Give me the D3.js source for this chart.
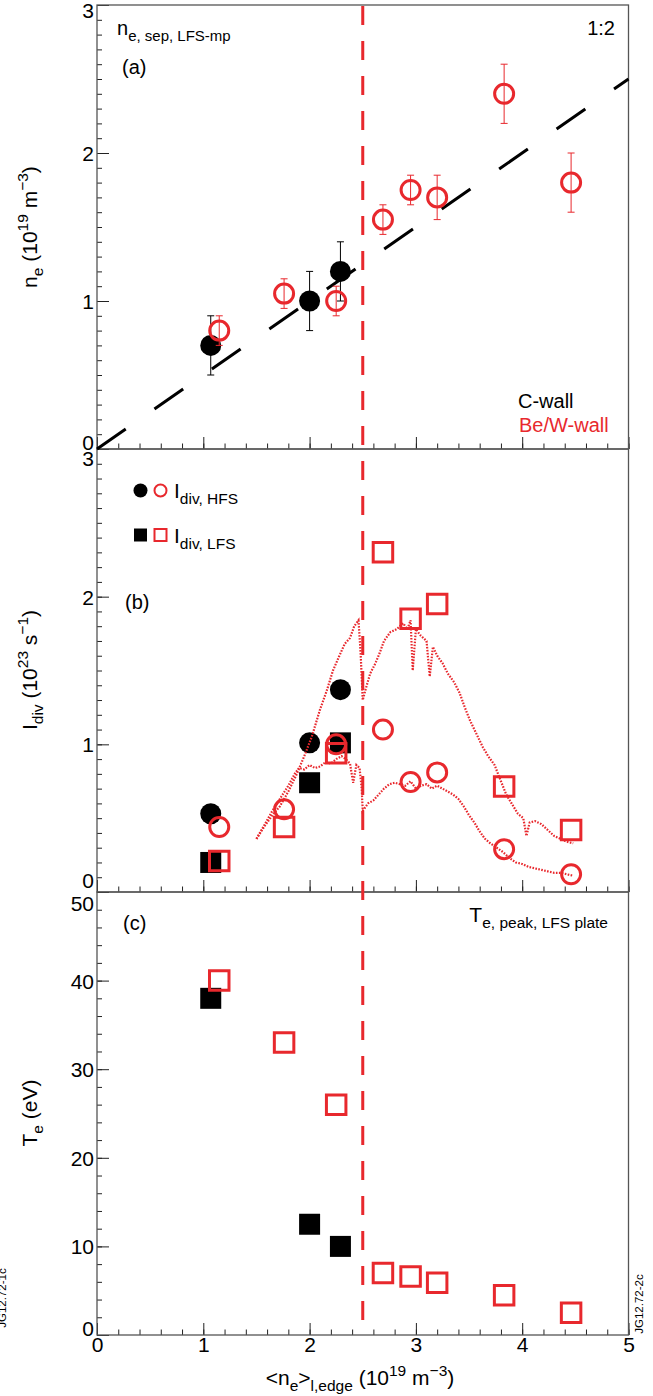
<!DOCTYPE html>
<html>
<head>
<meta charset="utf-8">
<script src="https://cdn.jsdelivr.net/npm/d3@7"></script>
<style>
  body { margin: 0; background: #fff; }
  text { font-family: "Liberation Sans", Arial, Helvetica, sans-serif; }
</style>
</head>
<body>
<svg id="chart" width="653" height="1396"></svg>
<script>
// ---- data ----
// x positions (line-averaged edge density, 10^19 m^-3)
const cWallX = [1.07, 2.00, 2.29];
const bwWallX = [1.15, 1.76, 2.25, 2.69, 2.95, 3.20, 3.83, 4.46];

// (a) separatrix density
const neSepC = [0.70, 1.00, 1.20];
const neSepCErr = [0.20, 0.20, 0.20];
const neSepBW = [0.80, 1.05, 1.00, 1.55, 1.75, 1.70, 2.40, 1.80];
const neSepBWErr = [0.10, 0.10, 0.10, 0.10, 0.10, 0.15, 0.20, 0.20];
const fitX = [0, 5];
const fitY = [0, 2.5];

// (b) divertor ion currents
const idivHfsC = [0.53, 1.01, 1.37];
const idivLfsC = [0.20, 0.74, 1.01];
const idivHfsBW = [0.44, 0.56, 1.00, 1.10, 0.745, 0.81, 0.29, 0.12];
const idivLfsBW = [0.21, 0.44, 0.94, 2.30, 1.85, 1.95, 0.715, 0.42];

// (b) continuous density-ramp traces (Be/W)
const lfsTraceX = [1.50,1.58,1.65,1.72,1.80,1.88,1.95,2.02,2.10,2.16,2.22,2.28,2.33,2.38,2.42,2.46,2.48,2.50,
  2.53,2.57,2.62,2.66,2.70,2.76,2.82,2.88,2.92,2.95,2.97,3.00,3.04,3.10,3.13,3.16,3.20,3.25,3.30,3.36,3.41,
  3.46,3.51,3.57,3.63,3.68,3.74,3.80,3.85,3.90,3.96,4.01,4.04,4.07,4.12,4.18,4.24,4.30,4.36,4.42,4.48];
const lfsTraceY = [0.36,0.45,0.52,0.58,0.68,0.80,0.92,1.05,1.24,1.36,1.50,1.60,1.68,1.72,1.80,1.84,1.62,1.30,
  1.38,1.48,1.55,1.62,1.70,1.76,1.78,1.82,1.78,1.84,1.50,1.78,1.74,1.70,1.46,1.66,1.60,1.55,1.48,1.42,1.35,
  1.25,1.16,1.07,0.98,0.92,0.86,0.75,0.66,0.60,0.53,0.50,0.38,0.47,0.48,0.46,0.42,0.38,0.36,0.34,0.33];
const hfsTraceX = [1.50,1.58,1.65,1.72,1.80,1.86,1.90,1.95,2.00,2.05,2.10,2.15,2.20,2.25,2.30,2.34,2.38,2.41,
  2.44,2.47,2.49,2.50,2.55,2.60,2.65,2.70,2.75,2.80,2.85,2.90,2.95,3.00,3.05,3.10,3.15,3.20,3.25,3.30,3.35,
  3.40,3.45,3.50,3.55,3.60,3.65,3.70,3.76,3.82,3.88,3.94,4.00,4.06,4.12,4.18,4.24,4.30,4.36,4.42,4.48];
const hfsTraceY = [0.36,0.46,0.55,0.63,0.72,0.80,0.84,0.83,0.86,0.84,0.85,0.88,0.87,0.90,0.92,0.90,0.87,0.74,
  0.86,0.84,0.70,0.55,0.60,0.62,0.66,0.70,0.73,0.74,0.73,0.72,0.75,0.70,0.72,0.73,0.70,0.72,0.70,0.68,0.66,
  0.63,0.58,0.52,0.47,0.41,0.36,0.33,0.30,0.27,0.23,0.20,0.19,0.17,0.16,0.15,0.14,0.13,0.13,0.12,0.11];

// (c) peak target temperature
const tePeakC = [38, 12.5, 10];
const tePeakBW = [40, 33, 26, 7, 6.6, 5.9, 4.5, 2.5];

// axes
const xTicks = [0, 1, 2, 3, 4, 5];
const neTicks = [0, 1, 2, 3];
const idivTicks = [0, 1, 2, 3];
const teTicks = [0, 10, 20, 30, 40, 50];
const limitX = 2.5;

// ---- layout ----
const RED = '#e8282d';
const svg = d3.select('#chart');
svg.append('rect').attr('width', 653).attr('height', 1396).attr('fill', '#fff');

const x = d3.scaleLinear().domain([0, 5]).range([97, 628.5]);

const panels = [
  { top: 5, bottom: 449, domain: [0, 3], ticks: neTicks, minor: 0.1, shiftTop: 5, shiftBot: -7 },
  { top: 449, bottom: 892, domain: [0, 3], ticks: idivTicks, minor: 0.1, shiftTop: 9, shiftBot: -12 },
  { top: 892, bottom: 1335, domain: [0, 50], ticks: teTicks, minor: 2, shiftTop: 11, shiftBot: -7 }
];
panels.forEach(function(p) {
  p.y = d3.scaleLinear().domain(p.domain).range([p.bottom, p.top]);
});

// rich text helper: parts = [[text, 'sub'|'sup'|'']]
function richText(g, px, py, parts, size, opts) {
  opts = opts || {};
  let t = g.append('text')
    .attr('x', px).attr('y', py)
    .attr('font-size', size)
    .attr('fill', opts.fill || '#000')
    .attr('text-anchor', opts.anchor || 'start');
  if (opts.rotate) t.attr('transform', 'rotate(' + opts.rotate + ',' + px + ',' + py + ')');
  let shift = 0;
  let subSize = opts.subSize || size * 0.72;
  parts.forEach(function(pt) {
    let target = 0;
    let fs = size;
    if (pt[1] === 'sub') { target = size * 0.3; fs = subSize; }
    if (pt[1] === 'sup') { target = -size * 0.45; fs = subSize; }
    t.append('tspan')
      .attr('dy', target - shift)
      .attr('font-size', fs)
      .text(pt[0]);
    shift = target;
  });
  return t;
}

// ---- frames and axes ----
panels.forEach(function(p, i) {
  let g = svg.append('g');

  // y axis major / minor
  let minorVals = d3.range(p.domain[0], p.domain[1] + p.minor / 2, p.minor);
  g.append('g').attr('transform', 'translate(' + x(0) + ',0)')
    .call(d3.axisLeft(p.y).tickValues(minorVals).tickSize(-5).tickFormat(''))
    .call(function(a) { a.select('.domain').remove(); });
  let ya = g.append('g').attr('transform', 'translate(' + x(0) + ',0)')
    .call(d3.axisLeft(p.y).tickValues(p.ticks).tickSize(-12).tickPadding(3).tickFormat(d3.format('d')));
  ya.select('.domain').remove();
  ya.selectAll('text').attr('font-size', 21).attr('font-family', '"Liberation Sans", Arial, sans-serif')
    .attr('fill', '#000')
    .attr('dy', function(d) {
      let s = 0;
      if (d === p.domain[1]) s = p.shiftTop;
      if (d === p.domain[0]) s = p.shiftBot;
      return (7.5 + s) + 'px';
    });

  // x axis on bottom of every panel
  let xMinor = d3.range(0, 5.1, 0.2);
  g.append('g').attr('transform', 'translate(0,' + p.bottom + ')')
    .call(d3.axisBottom(x).tickValues(xMinor).tickSize(-5.5).tickFormat(''))
    .call(function(a) { a.select('.domain').remove(); });
  let xa = g.append('g').attr('transform', 'translate(0,' + p.bottom + ')')
    .call(d3.axisBottom(x).tickValues(xTicks).tickSize(-12).tickPadding(4)
      .tickFormat(i === 2 ? d3.format('d') : ''));
  xa.select('.domain').remove();
  xa.selectAll('text').attr('font-size', 21).attr('fill', '#000')
    .attr('font-family', '"Liberation Sans", Arial, sans-serif').attr('dy', '0.6em');

  g.selectAll('.tick line').attr('stroke', '#222').attr('stroke-width', 1);

  g.append('rect')
    .attr('x', x(0)).attr('y', p.top)
    .attr('width', x(5) - x(0)).attr('height', p.bottom - p.top)
    .attr('fill', 'none').attr('stroke', '#555').attr('stroke-width', 1.3);
});

// vertical density limit line
svg.append('line')
  .attr('x1', x(limitX)).attr('x2', x(limitX))
  .attr('y1', panels[0].top + 1).attr('y2', panels[2].bottom - 4)
  .attr('stroke', RED).attr('stroke-width', 3)
  .attr('stroke-dasharray', '19,16');

// ---- panel (a) ----
(function() {
  let p = panels[0], y = p.y;
  let g = svg.append('g');

  g.append('path')
    .datum(fitX.map(function(d, i) { return [d, fitY[i]]; }))
    .attr('d', d3.line().x(function(d) { return x(d[0]); }).y(function(d) { return y(d[1]); }))
    .attr('stroke', '#000').attr('stroke-width', 3).attr('fill', 'none')
    .attr('stroke-dasharray', '35,35');

  function errBars(xs, ys, es, col) {
    xs.forEach(function(xv, i) {
      let cx = x(xv), y1 = y(ys[i] + es[i]), y2 = y(ys[i] - es[i]);
      g.append('line').attr('x1', cx).attr('x2', cx).attr('y1', y1).attr('y2', y2)
        .attr('stroke', col).attr('stroke-width', 1);
      [y1, y2].forEach(function(yy) {
        g.append('line').attr('x1', cx - 3.5).attr('x2', cx + 3.5).attr('y1', yy).attr('y2', yy)
          .attr('stroke', col).attr('stroke-width', 1);
      });
    });
  }
  errBars(cWallX, neSepC, neSepCErr, '#000');
  g.selectAll('.cw').data(cWallX).enter().append('circle')
    .attr('cx', function(d) { return x(d); })
    .attr('cy', function(d, i) { return y(neSepC[i]); })
    .attr('r', 10.5).attr('fill', '#000');

  errBars(bwWallX, neSepBW, neSepBWErr, RED);
  g.selectAll('.bw').data(bwWallX).enter().append('circle')
    .attr('cx', function(d) { return x(d); })
    .attr('cy', function(d, i) { return y(neSepBW[i]); })
    .attr('r', 9.5).attr('fill', 'none').attr('stroke', RED).attr('stroke-width', 3);

  richText(svg, 117, 35, [['n', ''], ['e, sep, LFS-mp', 'sub']], 20, { subSize: 15 });
  richText(svg, 122, 74, [['(a)', '']], 20);
  richText(svg, 615, 35, [['1:2', '']], 20, { anchor: 'end' });
  richText(svg, 518, 408, [['C-wall', '']], 20);
  richText(svg, 519, 432, [['Be/W-wall', '']], 20, { fill: RED });
  richText(svg, 37, 227, [['n', ''], ['e', 'sub'], [' (10', ''], ['19', 'sup'], [' m', ''], ['\u22123', 'sup'], [')', '']],
    21, { anchor: 'middle', rotate: -90, subSize: 15.5 });
})();

// ---- panel (b) ----
(function() {
  let p = panels[1], y = p.y;
  let g = svg.append('g');
  let sq = d3.symbol().type(d3.symbolSquare);

  g.selectAll('.hc').data(cWallX).enter().append('circle')
    .attr('cx', function(d) { return x(d); })
    .attr('cy', function(d, i) { return y(idivHfsC[i]); })
    .attr('r', 10.5).attr('fill', '#000');
  g.selectAll('.lc').data(cWallX).enter().append('path')
    .attr('d', sq.size(441))
    .attr('transform', function(d, i) { return 'translate(' + x(d) + ',' + y(idivLfsC[i]) + ')'; })
    .attr('fill', '#000');

  let line = d3.line().x(function(d) { return x(d[0]); }).y(function(d) { return y(d[1]); });
  [[lfsTraceX, lfsTraceY], [hfsTraceX, hfsTraceY]].forEach(function(tr) {
    g.append('path')
      .datum(tr[0].map(function(d, i) { return [d, tr[1][i]]; }))
      .attr('d', line)
      .attr('fill', 'none').attr('stroke', RED).attr('stroke-width', 2.2)
      .attr('stroke-dasharray', '1.6,1.4');
  });

  g.selectAll('.hb').data(bwWallX).enter().append('circle')
    .attr('cx', function(d) { return x(d); })
    .attr('cy', function(d, i) { return y(idivHfsBW[i]); })
    .attr('r', 9.5).attr('fill', 'none').attr('stroke', RED).attr('stroke-width', 3);
  g.selectAll('.lb').data(bwWallX).enter().append('path')
    .attr('d', sq.size(380))
    .attr('transform', function(d, i) { return 'translate(' + x(d) + ',' + y(idivLfsBW[i]) + ')'; })
    .attr('fill', 'none').attr('stroke', RED).attr('stroke-width', 3);

  // legend
  g.append('circle').attr('cx', 140.5).attr('cy', 490.5).attr('r', 7).attr('fill', '#000');
  g.append('circle').attr('cx', 160.5).attr('cy', 490.5).attr('r', 6).attr('fill', 'none')
    .attr('stroke', RED).attr('stroke-width', 2);
  g.append('path').attr('d', sq.size(169)).attr('transform', 'translate(140.5,535)').attr('fill', '#000');
  g.append('path').attr('d', sq.size(144)).attr('transform', 'translate(160.5,535)').attr('fill', 'none')
    .attr('stroke', RED).attr('stroke-width', 2);
  richText(svg, 174, 498, [['I', ''], ['div, HFS', 'sub']], 21, { subSize: 15.5 });
  richText(svg, 174, 543, [['I', ''], ['div, LFS', 'sub']], 21, { subSize: 15.5 });

  richText(svg, 125, 609, [['(b)', '']], 20);
  richText(svg, 37, 670, [['I', ''], ['div', 'sub'], [' (10', ''], ['23', 'sup'], [' s', ''], ['\u22121', 'sup'], [')', '']],
    21, { anchor: 'middle', rotate: -90, subSize: 15.5 });
})();

// ---- panel (c) ----
(function() {
  let p = panels[2], y = p.y;
  let g = svg.append('g');
  let sq = d3.symbol().type(d3.symbolSquare);

  g.selectAll('.tc').data(cWallX).enter().append('path')
    .attr('d', sq.size(441))
    .attr('transform', function(d, i) { return 'translate(' + x(d) + ',' + y(tePeakC[i]) + ')'; })
    .attr('fill', '#000');
  g.selectAll('.tb').data(bwWallX).enter().append('path')
    .attr('d', sq.size(380))
    .attr('transform', function(d, i) { return 'translate(' + x(d) + ',' + y(tePeakBW[i]) + ')'; })
    .attr('fill', 'none').attr('stroke', RED).attr('stroke-width', 3);

  richText(svg, 123, 930, [['(c)', '']], 20);
  richText(svg, 608, 922, [['T', ''], ['e, peak, LFS plate', 'sub']], 21, { anchor: 'end', subSize: 15.5 });
  richText(svg, 37, 1113, [['T', ''], ['e', 'sub'], [' (eV)', '']],
    21, { anchor: 'middle', rotate: -90, subSize: 15.5 });
})();

// x axis title and figure ids
richText(svg, 360, 1385, [['<n', ''], ['e', 'sub'], ['>', ''], ['l,edge', 'sub'], [' (10', ''], ['19', 'sup'],
  [' m', ''], ['\u22123', 'sup'], [')', '']], 21, { anchor: 'middle', subSize: 15.5 });
richText(svg, 643, 1304, [['JG12.72-2c', '']], 11.5, { anchor: 'middle', rotate: -90 });
richText(svg, 6, 1298, [['JG12.72-1c', '']], 11.5, { anchor: 'middle', rotate: -90 });
</script>
</body>
</html>
